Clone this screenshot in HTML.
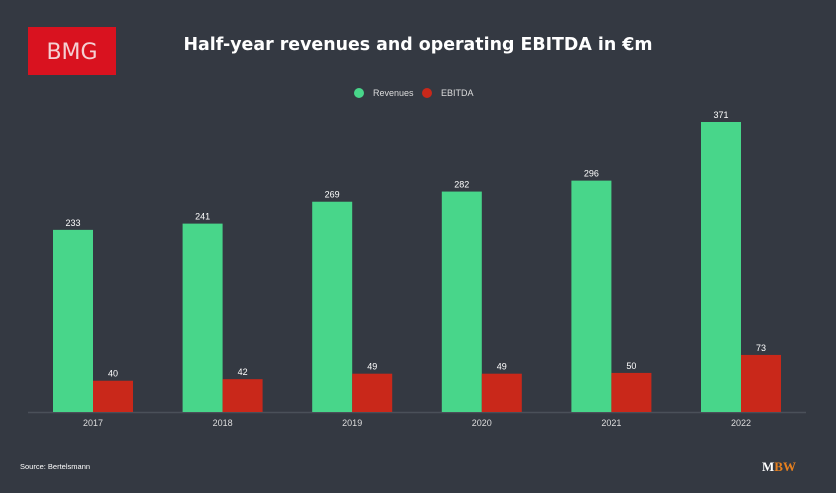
<!DOCTYPE html>
<html><head><meta charset="utf-8"><style>
body{margin:0;background:#343942;width:836px;height:488px;overflow:hidden;font-family:"Liberation Sans","DejaVu Sans",sans-serif}
</style></head><body>
<svg width="836" height="488" xmlns="http://www.w3.org/2000/svg">
<rect width="836" height="488" fill="#343942"/>
<rect x="28" y="27" width="88" height="48" fill="#d9121f"/>
<text x="72" y="59" fill="#f4d0d3" font-size="22" text-anchor="middle" font-family="DejaVu Sans, sans-serif">BMG</text>
<text x="418" y="50" fill="#fff" font-size="17.4" font-weight="bold" text-anchor="middle" font-family="DejaVu Sans, sans-serif">Half-year revenues and operating EBITDA in €m</text>
<g>
<circle cx="359" cy="93" r="5" fill="#48d68a"/>
<text x="373" y="96" fill="#ddd" font-size="9">Revenues</text>
<circle cx="427" cy="93" r="5" fill="#c9281a"/>
<text x="441" y="96" fill="#ddd" font-size="9">EBITDA</text>
</g>
<line x1="28" y1="412.5" x2="806" y2="412.5" stroke="#4a5059" stroke-width="1.5"/>
<g id="bars"></g>
<text x="20" y="469" fill="#fff" font-size="7.5">Source: Bertelsmann</text>
<text x="762" y="471" fill="#fff" font-size="13" font-weight="bold" font-family="Liberation Serif, serif">M<tspan fill="#e8801e">BW</tspan></text>
</svg>
<script>
const years=["2017","2018","2019","2020","2021","2022"];
const revenues=[233,241,269,282,296,371];
const ebitda=[40,42,49,49,50,73];
const base=412, scale=290/371, x0=53, step=129.6, bw=40;
const y=v=>base-v*scale;
const g=document.getElementById('bars');
const NS="http://www.w3.org/2000/svg";
function mk(t,a){const e=document.createElementNS(NS,t);for(const k in a)e.setAttribute(k,a[k]);return e;}
years.forEach((yr,i)=>{
  const gx=x0+i*step;
  const r=mk('rect',{x:gx,y:y(revenues[i]),width:bw,height:revenues[i]*scale,fill:'#48d68a'});
  
  
  g.appendChild(r);
  const e=mk('rect',{x:gx+bw,y:y(ebitda[i]),width:bw,height:ebitda[i]*scale,fill:'#c9281a'});
  
  
  g.appendChild(e);
  const t1=mk('text',{x:gx+bw/2,y:y(revenues[i])-4,fill:'#fff','font-size':9,'text-anchor':'middle'});
  t1.textContent=revenues[i];
  
  
  g.appendChild(t1);
  const t2=mk('text',{x:gx+bw*1.5,y:y(ebitda[i])-4,fill:'#fff','font-size':9,'text-anchor':'middle'});
  t2.textContent=ebitda[i];
  
  
  g.appendChild(t2);
  const t3=mk('text',{x:gx+bw,y:426,fill:'#ddd','font-size':9,'text-anchor':'middle'});
  t3.textContent=yr;
  
  
  g.appendChild(t3);
});
</script>
</body></html>
